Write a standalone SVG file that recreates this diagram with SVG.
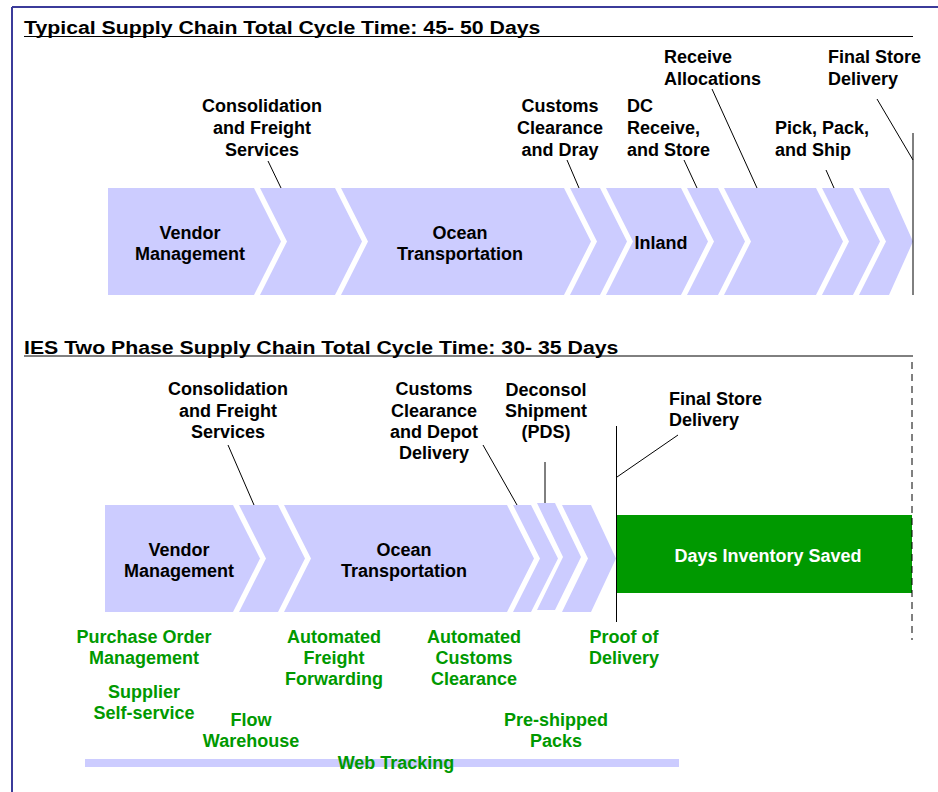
<svg xmlns="http://www.w3.org/2000/svg" width="938" height="792" viewBox="0 0 938 792">
<style>
.bg{fill:#ffffff}
.chev{fill:#ccccff}
.lbl{font-family:"Liberation Sans",Arial,sans-serif;font-weight:bold;font-size:18px;fill:#000}
.ttl{font-family:"Liberation Sans",Arial,sans-serif;font-weight:bold;font-size:19px;fill:#000}
.grn{font-family:"Liberation Sans",Arial,sans-serif;font-weight:bold;font-size:18px;fill:#009900}
.wht{font-family:"Liberation Sans",Arial,sans-serif;font-weight:bold;font-size:18px;fill:#ffffff}
.c{text-anchor:middle}
.ld{stroke:#000;stroke-width:1;fill:none}
.border{stroke:#3b3b9a;stroke-width:2;fill:none}
</style>
<rect class="bg" x="0" y="0" width="938" height="792"/>
<g id="frame">
<line class="border" x1="12" y1="7" x2="938" y2="7"/>
<line class="border" x1="12" y1="7" x2="12" y2="792"/>
</g>
<g id="title-typical">
<text class="ttl" transform="translate(24,34) scale(1.12,1)" x="0" y="0">Typical Supply Chain Total Cycle Time: 45- 50 Days</text>
<line x1="24" y1="36.5" x2="913" y2="36.5" stroke="#000" stroke-width="1"/>
</g>
<g id="title-ies">
<text class="ttl" transform="translate(24,354) scale(1.12,1)" x="0" y="0">IES Two Phase Supply Chain Total Cycle Time: 30- 35 Days</text>
<line x1="24" y1="356" x2="913" y2="356" stroke="#000" stroke-width="1"/>
</g>

<g id="top-chevrons">
<polygon class="chev" points="108,188 254,188 281,241.5 254,295 108,295"/>
<polygon class="chev" points="260,188 335,188 362,241.5 335,295 260,295 287,241.5"/>
<polygon class="chev" points="341,188 564,188 591,241.5 564,295 341,295 368,241.5"/>
<polygon class="chev" points="570,188 600,188 627,241.5 600,295 570,295 597,241.5"/>
<polygon class="chev" points="606,188 681,188 708,241.5 681,295 606,295 633,241.5"/>
<polygon class="chev" points="687,188 718,188 745,241.5 718,295 687,295 714,241.5"/>
<polygon class="chev" points="724,188 816,188 843,241.5 816,295 724,295 751,241.5"/>
<polygon class="chev" points="822,188 853,188 880,241.5 853,295 822,295 849,241.5"/>
<polygon class="chev" points="859,188 889,188 913,241.5 889,295 859,295 886,241.5"/>
</g>
<g id="top-vendor"><text class="lbl c" x="190" y="239">Vendor</text><text class="lbl c" x="190" y="260">Management</text></g>
<g id="top-ocean"><text class="lbl c" x="460" y="239">Ocean</text><text class="lbl c" x="460" y="260">Transportation</text></g>
<g id="top-inland"><text class="lbl c" x="661" y="249">Inland</text></g>

<g id="top-consolidation"><text class="lbl c" x="262" y="112">Consolidation</text><text class="lbl c" x="262" y="134">and Freight</text><text class="lbl c" x="262" y="156">Services</text></g>
<g id="top-customs"><text class="lbl c" x="560" y="112">Customs</text><text class="lbl c" x="560" y="134">Clearance</text><text class="lbl c" x="560" y="156">and Dray</text></g>
<g id="top-dc"><text class="lbl" x="627" y="112">DC</text><text class="lbl" x="627" y="134">Receive,</text><text class="lbl" x="627" y="156">and Store</text></g>
<g id="top-receive"><text class="lbl" x="664" y="63">Receive</text><text class="lbl" x="664" y="85">Allocations</text></g>
<g id="top-pick"><text class="lbl" x="775" y="134">Pick, Pack,</text><text class="lbl" x="775" y="156">and Ship</text></g>
<g id="top-final"><text class="lbl" x="828" y="63">Final Store</text><text class="lbl" x="828" y="85">Delivery</text></g>

<g id="bottom-chevrons">
<polygon class="chev" points="105,505 233,505 260,558.5 233,612 105,612"/>
<polygon class="chev" points="239,505 278,505 305,558.5 278,612 239,612 266,558.5"/>
<polygon class="chev" points="284,505 507,505 534,558.5 507,612 284,612 311,558.5"/>
<polygon class="chev" points="513,505 531,505 558,558.5 531,612 513,612 540,558.5"/>
<polygon class="chev" points="537,503 555,503 581,557 555,610 537,610 563,557"/>
<polygon class="chev" points="562,505 591,505 616,558.5 591,612 562,612 588,558.5"/>
</g>
<g id="bottom-vendor"><text class="lbl c" x="179" y="556">Vendor</text><text class="lbl c" x="179" y="577">Management</text></g>
<g id="bottom-ocean"><text class="lbl c" x="404" y="556">Ocean</text><text class="lbl c" x="404" y="577">Transportation</text></g>
<g id="days-saved">
<rect x="617" y="515" width="295" height="78" fill="#009900"/>
<text class="wht c" x="768" y="562">Days Inventory Saved</text>
</g>

<g id="bottom-consolidation"><text class="lbl c" x="228" y="395">Consolidation</text><text class="lbl c" x="228" y="417">and Freight</text><text class="lbl c" x="228" y="438">Services</text></g>
<g id="bottom-customs"><text class="lbl c" x="434" y="395">Customs</text><text class="lbl c" x="434" y="417">Clearance</text><text class="lbl c" x="434" y="438">and Depot</text><text class="lbl c" x="434" y="459">Delivery</text></g>
<g id="bottom-deconsol"><text class="lbl c" x="546" y="396">Deconsol</text><text class="lbl c" x="546" y="417">Shipment</text><text class="lbl c" x="546" y="438">(PDS)</text></g>
<g id="bottom-final"><text class="lbl" x="669" y="405">Final Store</text><text class="lbl" x="669" y="426">Delivery</text></g>

<g id="green-po"><text class="grn c" x="144" y="643">Purchase Order</text><text class="grn c" x="144" y="664">Management</text></g>
<g id="green-supplier"><text class="grn c" x="144" y="698">Supplier</text><text class="grn c" x="144" y="719">Self-service</text></g>
<g id="green-freight"><text class="grn c" x="334" y="643">Automated</text><text class="grn c" x="334" y="664">Freight</text><text class="grn c" x="334" y="685">Forwarding</text></g>
<g id="green-customs"><text class="grn c" x="474" y="643">Automated</text><text class="grn c" x="474" y="664">Customs</text><text class="grn c" x="474" y="685">Clearance</text></g>
<g id="green-pod"><text class="grn c" x="624" y="643">Proof of</text><text class="grn c" x="624" y="664">Delivery</text></g>
<g id="green-flow"><text class="grn c" x="251" y="726">Flow</text><text class="grn c" x="251" y="747">Warehouse</text></g>
<g id="green-packs"><text class="grn c" x="556" y="726">Pre-shipped</text><text class="grn c" x="556" y="747">Packs</text></g>
<g id="web-tracking">
<rect x="85" y="759" width="594" height="8" fill="#ccccff"/>
<text class="grn c" x="396" y="769">Web Tracking</text>
</g>

<g id="connectors">
<line class="ld" x1="268" y1="161" x2="281" y2="188"/>
<line class="ld" x1="567" y1="160" x2="579" y2="188"/>
<line class="ld" x1="684" y1="160" x2="697" y2="188"/>
<line class="ld" x1="712" y1="89" x2="757" y2="188"/>
<line class="ld" x1="826" y1="170" x2="834" y2="188"/>
<line class="ld" x1="877" y1="99" x2="913" y2="160"/>
<line class="ld" x1="913" y1="133" x2="913" y2="295" stroke-width="1.5"/>
<line class="ld" x1="228" y1="445" x2="254" y2="505"/>
<line class="ld" x1="483" y1="445" x2="517" y2="505"/>
<line class="ld" x1="545" y1="462" x2="545" y2="503"/>
<line class="ld" x1="678" y1="435" x2="617" y2="477"/>
<line class="ld" x1="616.5" y1="426" x2="616.5" y2="622" stroke-width="1.5"/>
<line class="ld" x1="912" y1="362" x2="912" y2="640" stroke-width="1.5" stroke-dasharray="7 5"/>
</g>
</svg>
